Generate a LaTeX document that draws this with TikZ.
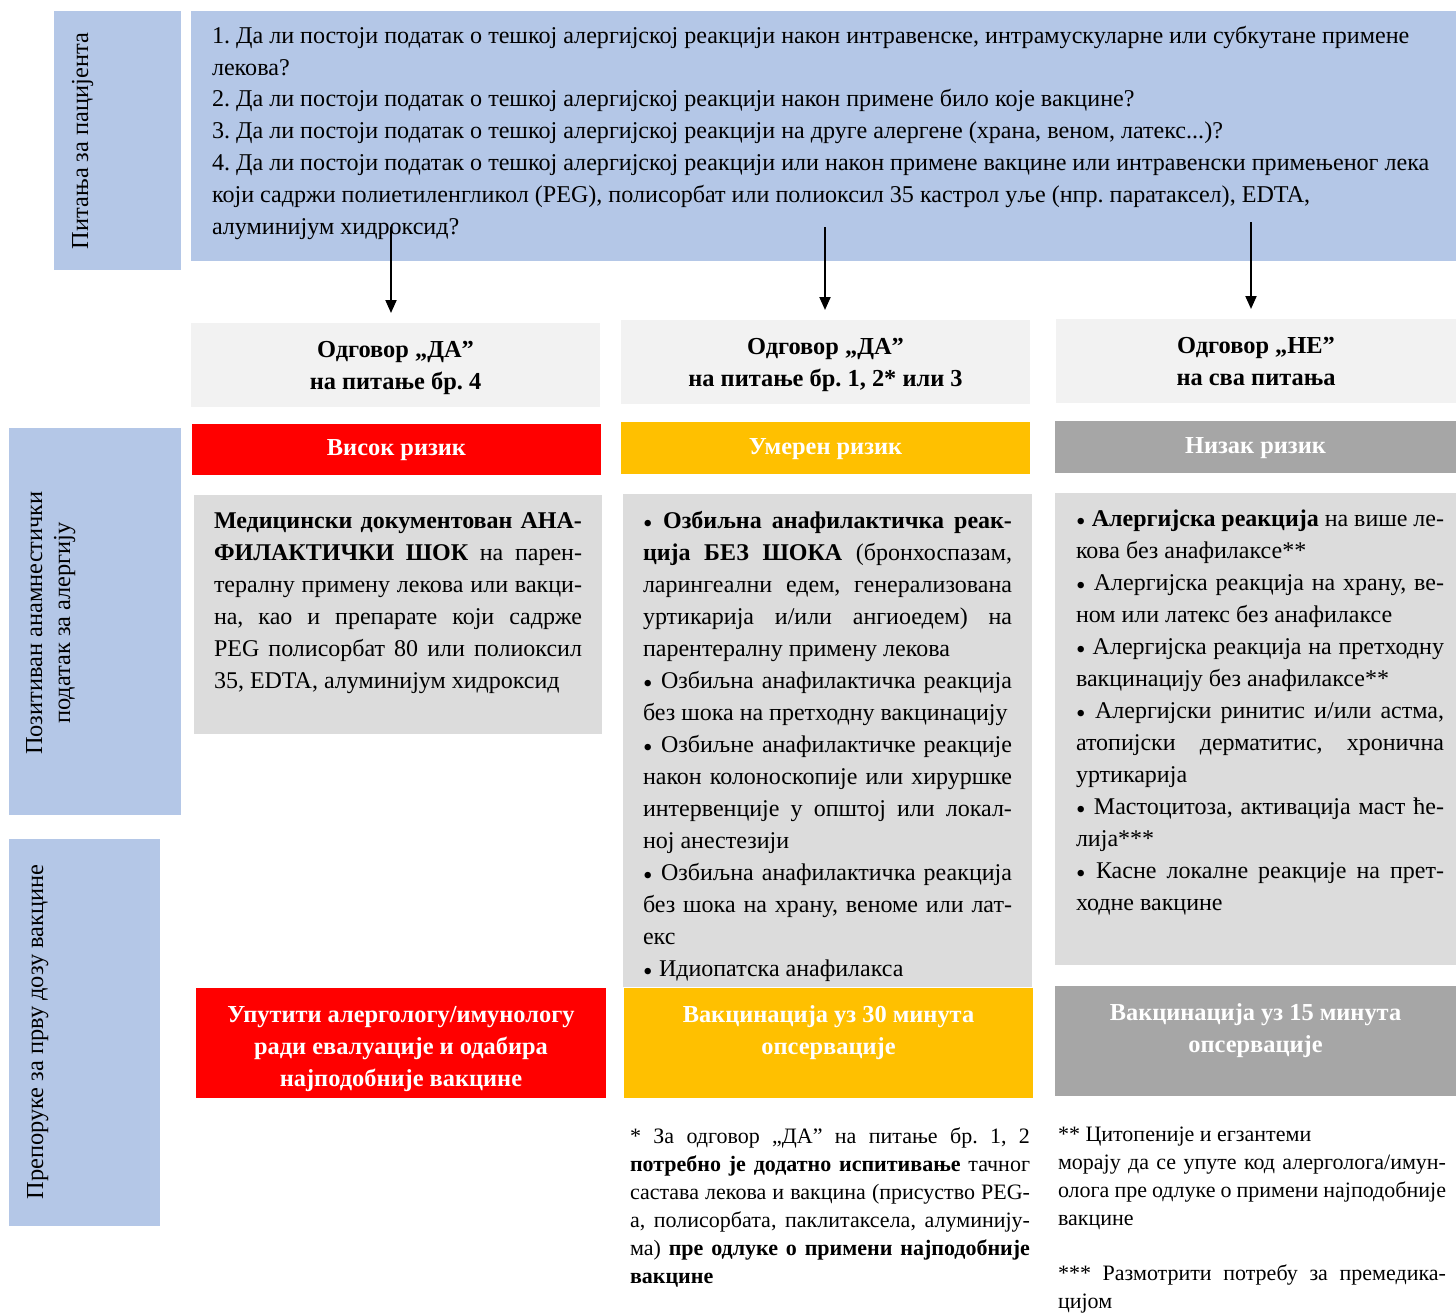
\documentclass[tikz,border=0pt]{standalone}
\usepackage{fontspec}
\setmainfont{Liberation Serif}
\usetikzlibrary{arrows.meta}
\definecolor{lblue}{HTML}{B4C7E7}
\definecolor{lgray}{HTML}{F2F2F2}
\definecolor{cgray}{HTML}{DCDCDC}
\definecolor{rred}{HTML}{FF0000}
\definecolor{ryel}{HTML}{FFC000}
\definecolor{rgray}{HTML}{A6A6A6}
\frenchspacing
\newcommand\ns{\spaceskip=0pt\xspaceskip=0pt\relax}
\newcommand\jl[1]{\makebox[\hsize][s]{\ns #1}\\}
\newcommand\rl[1]{\makebox[\hsize][l]{\ns #1}\\}
\newcommand\bul{\makebox[10pt][l]{\raisebox{-4pt}{\fontsize{27}{27}\selectfont\mdseries •}}}
\tikzset{
  panel/.style={inner sep=0pt, outer sep=0pt, anchor=north west, draw=none},
  body/.style={inner sep=0pt, outer sep=0pt, anchor=north west, align=left, font=\fontsize{24}{32}\selectfont\frenchspacing},
  foot/.style={inner sep=0pt, outer sep=0pt, anchor=north west, align=left, font=\fontsize{22}{28}\selectfont\frenchspacing},
  head/.style={inner sep=0pt, outer sep=0pt, anchor=north, align=center, font=\fontsize{24.4}{32}\selectfont\bfseries\frenchspacing},
  side/.style={inner sep=0pt, outer sep=0pt, align=center, rotate=90, font=\fontsize{24.4}{28}\selectfont},
  arr/.style={line width=2pt, -{Triangle[length=13pt,width=11pt]}, shorten >=10pt}
}
\begin{document}
\begin{tikzpicture}[x=1pt,y=-1pt]
\useasboundingbox (0,0) rectangle (1456,1312);
% side labels
\node[panel, fill=lblue, minimum width=127pt, minimum height=259pt] (s1) at (54,11) {};
\node[panel, fill=lblue, minimum width=172pt, minimum height=387pt] (s2) at (9,428) {};
\node[panel, fill=lblue, minimum width=151pt, minimum height=387pt] (s3) at (9,839) {};
\node[side, anchor=base] (s1t) at (88,141) {\ns Питања за пацијента};
\node[side, anchor=base] (s2t) at (70,623) {\ns Позитиван анамнестички\\\ns податак за алергију};
\node[side, anchor=base] (s3t) at (43,1032) {\ns Препоруке за прву дозу вакцине};
% questions
\node[panel, fill=lblue, minimum width=1265pt, minimum height=250pt] (q) at (191,11) {};
\node[body, font=\fontsize{24.1}{31.8}\selectfont\frenchspacing, text width=1240pt] (qt) at (212,21) {\strut
\rl{1. Да ли постоји податак о тешкој алергијској реакцији након интравенске, интрамускуларне или субкутане примене}
\rl{лекова?}
\rl{2. Да ли постоји податак о тешкој алергијској реакцији након примене било које вакцине?}
\rl{3. Да ли постоји податак о тешкој алергијској реакцији на друге алергене (храна, веном, латекс...)?}
\rl{4. Да ли постоји податак о тешкој алергијској реакцији или након примене вакцине или интравенски примењеног лека}
\rl{који садржи полиетиленгликол (PEG), полисорбат или полиоксил 35 кастрол уље (нпр. паратаксел), EDTA,}
\ns алуминијум хидроксид?};
% answers
\node[panel, fill=lgray, minimum width=409pt, minimum height=84pt] (a1) at (191,323) {};
\node[panel, fill=lgray, minimum width=409pt, minimum height=84pt] (a2) at (621,320) {};
\node[panel, fill=lgray, minimum width=400pt, minimum height=84pt] (a3) at (1056,319) {};
\node[head] (a1t) at ([yshift=-12pt]a1.north) {\strut\ns Одговор „ДА”\\\ns на питање бр. 4};
\node[head] (a2t) at ([yshift=-12pt]a2.north) {\strut\ns Одговор „ДА”\\\ns на питање бр. 1, 2* или 3};
\node[head] (a3t) at ([yshift=-12pt]a3.north) {\strut\ns Одговор „НЕ”\\\ns на сва питања};
% arrows
\coordinate (c1) at (391,227);
\coordinate (c2) at (825,227);
\coordinate (c3) at (1251,222);
\draw[arr] (c1) -- (c1 |- a1.north);
\draw[arr] (c2) -- (c2 |- a2.north);
\draw[arr] (c3) -- (c3 |- a3.north);
% risk
\node[panel, fill=rred, minimum width=409pt, minimum height=51pt] (r1) at (192,424) {};
\node[panel, fill=ryel, minimum width=409pt, minimum height=52pt] (r2) at (621,422) {};
\node[panel, fill=rgray, minimum width=401pt, minimum height=52pt] (r3) at (1055,421) {};
\node[head, anchor=center, text=white] (r1t) at ([yshift=-1pt]r1.center) {\ns Висок ризик};
\node[head, anchor=center, text=white] (r2t) at ([yshift=-1pt]r2.center) {\ns Умерен ризик};
\node[head, anchor=center, text=white] (r3t) at ([yshift=-1pt]r3.center) {\ns Низак ризик};
% content
\node[panel, fill=cgray, minimum width=408pt, minimum height=239pt] (b1) at (194,495) {};
\node[panel, fill=cgray, minimum width=409pt, minimum height=493pt] (b2) at (623,494) {};
\node[panel, fill=cgray, minimum width=401pt, minimum height=472pt] (b3) at (1055,493) {};
\node[body, text width=368pt] (b1t) at (214,506) {\strut
\jl{\bfseries Медицински документован АНА-}
\jl{\bfseries ФИЛАКТИЧКИ ШОК \mdseries на парен-}
\jl{тералну примену лекова или вакци-}
\jl{на, као и препарате који садрже}
\jl{PEG полисорбат 80 или полиоксил}
\ns 35, EDTA, алуминијум хидроксид};
\node[body, text width=369pt] (b2t) at (643,506) {\strut
\jl{\bul{} \bfseries Озбиљна анафилактичка реак-}
\jl{\bfseries ција БЕЗ ШОКА \mdseries (бронхоспазам,}
\jl{ларингеални едем, генерализована}
\jl{уртикарија и/или ангиоедем) на}
\rl{парентералну примену лекова}
\jl{\bul{} Озбиљна анафилактичка реакција}
\rl{без шока на претходну вакцинацију}
\jl{\bul{} Озбиљне анафилактичке реакције}
\jl{након колоноскопије или хируршке}
\jl{интервенције у општој или локал-}
\rl{ној анестезији}
\jl{\bul{} Озбиљна анафилактичка реакција}
\jl{без шока на храну, веноме или лат-}
\rl{екс}
\ns\bul{} Идиопатска анафилакса};
\node[body, text width=368pt] (b3t) at (1076,504) {\strut
\jl{\bul{} \bfseries Алергијска реакција \mdseries на више ле-}
\rl{кова без анафилаксе**}
\jl{\bul{} Алергијска реакција на храну, ве-}
\rl{ном или латекс без анафилаксе}
\jl{\bul{} Алергијска реакција на претходну}
\rl{вакцинацију без анафилаксе**}
\jl{\bul{} Алергијски ринитис и/или астма,}
\jl{атопијски дерматитис, хронична}
\rl{уртикарија}
\jl{\bul{} Мастоцитоза, активација маст ће-}
\rl{лија***}
\jl{\bul{} Касне локалне реакције на прет-}
\ns ходне вакцине};
% recommendations
\node[panel, fill=rred, minimum width=410pt, minimum height=110pt] (m1) at (196,988) {};
\node[panel, fill=ryel, minimum width=409pt, minimum height=110pt] (m2) at (624,988) {};
\node[panel, fill=rgray, minimum width=401pt, minimum height=110pt] (m3) at (1055,986) {};
\node[head, text=white] (m1t) at ([yshift=-12pt]m1.north) {\strut\ns Упутити алергологу/имунологу\\\ns ради евалуације и одабира\\\ns најподобније вакцине};
\node[head, text=white] (m2t) at ([yshift=-12pt]m2.north) {\strut\ns Вакцинација уз 30 минута\\\ns опсервације};
\node[head, text=white] (m3t) at ([yshift=-12pt]m3.north) {\strut\ns Вакцинација уз 15 минута\\\ns опсервације};
% footnotes
\node[foot, text width=400pt] (f1) at (630,1124) {\strut
\jl{* За одговор „ДА” на питање бр. 1, 2}
\jl{\bfseries потребно је додатно испитивање \mdseries тачног}
\jl{састава лекова и вакцина (присуство PEG-}
\jl{а, полисорбата, паклитаксела, алуминију-}
\jl{ма) \bfseries пре одлуке о примени најподобније}
{\bfseries вакцине}};
\node[foot, text width=388pt] (f2) at (1058,1122) {\strut
\rl{** Цитопеније и егзантеми}
\jl{морају да се упуте код алерголога/имун-}
\jl{олога пре одлуке о примени најподобније}
\makebox[\hsize][l]{вакцине}\\[27pt]
\jl{*** Размотрити потребу за премедика-}
\ns цијом};
\end{tikzpicture}
\end{document}
